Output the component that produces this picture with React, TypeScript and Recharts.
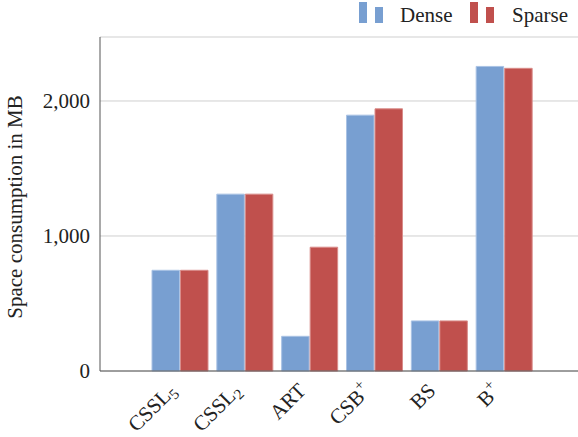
import { BarChart, Bar, XAxis, YAxis, CartesianGrid } from "recharts";

// index structures, memory footprint per key distribution
const categories = ["CSSL_5", "CSSL_2", "ART", "CSB^+", "BS", "B^+"];
const seriesNames = ["Dense", "Sparse"];
const dense = [746, 1310, 257, 1895, 371, 2256];
const sparse = [746, 1310, 917, 1942, 371, 2242];
const yTicks = [0, 1000, 2000];

const Y_MAX = 2474;
const FONT = "'Liberation Serif', 'Times New Roman', serif";
const FS = 21;
const COLORS = ["#789fd1", "#c0504d"];
const EDGES = ["#a9c2e4", "#d98c8a"];

const data = categories.map((name, i) => ({ name, dense: dense[i], sparse: sparse[i] }));

const fmt = (v: number) => v.toLocaleString("en-US");

function parseLabel(label: string) {
  const m = label.match(/^([^_^]+)([_^])?(.*)$/);
  if (!m) return { base: label, kind: "", extra: "" };
  return { base: m[1], kind: m[2] || "", extra: m[3] || "" };
}

function XTick({ x, y, payload }: any) {
  const { base, kind, extra } = parseLabel(String(payload.value));
  return (
    <g transform={`translate(${x - 3},${y + 21})`}>
      <text transform="rotate(-45)" textAnchor="end" fontFamily={FONT} fontSize={FS} fill="#222">
        {base}
        {kind === "_" && (
          <tspan dy={4} fontSize={15}>
            {extra}
          </tspan>
        )}
        {kind === "^" && (
          <tspan dy={-9} fontSize={15}>
            {extra}
          </tspan>
        )}
      </text>
    </g>
  );
}

function YLabel() {
  return (
    <text
      transform="translate(22,207) rotate(-90)"
      textAnchor="middle"
      fontFamily={FONT}
      fontSize={FS}
      fill="#222"
    >
      Space consumption in MB
    </text>
  );
}

function LegendBox() {
  const items = [
    { x: 359, tx: 400 },
    { x: 470, tx: 512 },
  ];
  return (
    <svg width={578} height={30} style={{ position: "absolute", left: 0, top: 0 }}>
      {items.map((it, i) => (
        <g key={seriesNames[i]}>
          <rect x={it.x} y={2} width={8} height={21} fill={COLORS[i]} />
          <rect x={it.x + 16} y={7} width={8} height={16} fill={COLORS[i]} />
          <text x={it.tx} y={22} fontFamily={FONT} fontSize={FS} fill="#222">
            {seriesNames[i]}
          </text>
        </g>
      ))}
    </svg>
  );
}

export default function App() {
  return (
    <div
      style={{
        position: "absolute",
        left: 0,
        top: 0,
        width: 578,
        height: 437,
        overflow: "hidden",
        background: "#fff",
      }}
    >
      <BarChart
        width={600}
        height={437}
        data={data}
        margin={{ top: 37, right: 15, bottom: 0, left: 0 }}
        barSize={27.5}
        barGap={1}
      >
        <CartesianGrid vertical={false} stroke="#cfcfcf" />
        <XAxis
          xAxisId="top"
          orientation="top"
          dataKey="name"
          height={0}
          tick={false}
          tickLine={false}
          axisLine={{ stroke: "#555" }}
          padding={{ left: 48, right: 48 }}
        />
        <XAxis
          dataKey="name"
          height={66}
          interval={0}
          tickLine={false}
          tickSize={0}
          tickMargin={0}
          axisLine={{ stroke: "#555" }}
          padding={{ left: 48, right: 48 }}
          tick={<XTick />}
        />
        <YAxis
          width={100}
          domain={[0, Y_MAX]}
          ticks={yTicks}
          tickFormatter={fmt}
          tickLine={false}
          tickSize={0}
          tickMargin={10}
          axisLine={{ stroke: "#555" }}
          tick={{ fontFamily: FONT, fontSize: FS, fill: "#222" }}
          label={{ content: () => <YLabel /> }}
        />
        <Bar dataKey="dense" name={seriesNames[0]} fill={COLORS[0]} stroke={EDGES[0]} strokeWidth={1} isAnimationActive={false} />
        <Bar dataKey="sparse" name={seriesNames[1]} fill={COLORS[1]} stroke={EDGES[1]} strokeWidth={1} isAnimationActive={false} />
      </BarChart>
      <LegendBox />
    </div>
  );
}
